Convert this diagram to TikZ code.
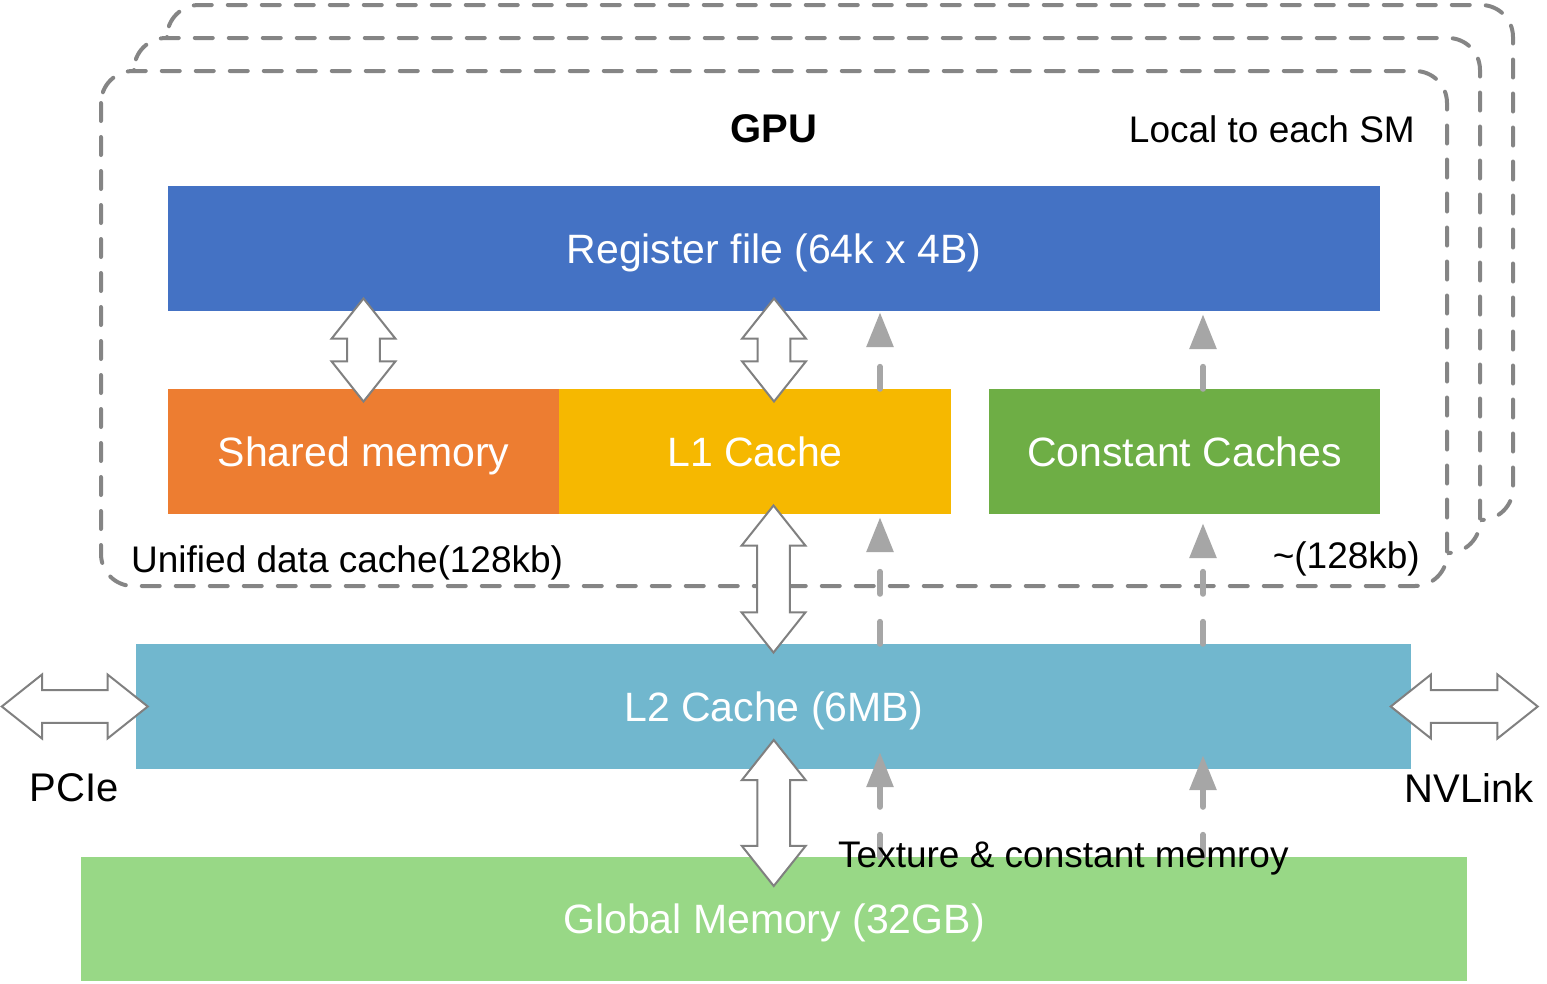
\documentclass[tikz,border=0pt]{standalone}
\usepackage{fontspec}
\setmainfont{Liberation Sans}
\usetikzlibrary{arrows.meta,shapes.arrows,calc}

\definecolor{rfblue}{HTML}{4472C4}
\definecolor{smorange}{HTML}{ED7D31}
\definecolor{lonegold}{HTML}{F6B800}
\definecolor{ccgreen}{HTML}{6EAE45}
\definecolor{ltwoblue}{HTML}{71B7CE}
\definecolor{gmgreen}{HTML}{98D886}
\definecolor{smgray}{HTML}{858585}
\definecolor{arrowgray}{HTML}{808080}
\definecolor{texgray}{HTML}{A6A6A6}

\tikzset{
	block/.style={draw=none, inner sep=0pt, text=white, text depth=0pt, font=\fontsize{41}{49}\selectfont, minimum height=125pt},
	smbox/.style={draw=smgray, fill=white, line width=4pt, dash pattern=on 18pt off 16pt, line cap=round, rounded corners=32pt},
	fatarrow/.style={shape=double arrow, draw=arrowgray, fill=white, line width=2pt, inner xsep=0pt, inner ysep=15.3pt, double arrow head extend=15.7pt, double arrow tip angle=77},
	texarrow/.style={draw=texgray, line width=6pt, dash pattern=on 22pt off 28pt, line cap=round, -{Triangle[length=35pt,width=26pt]}},
	note/.style={inner sep=0pt, text depth=0pt, font=\fontsize{37}{44}\selectfont}
}

\begin{document}
\begin{tikzpicture}[x=1pt, y=-1pt]
		\useasboundingbox ( 0, 0 ) rectangle ( 1547, 983 );

		% SM, one behind another
		\draw [smbox] ( 167, 5 ) rectangle ( 1513, 520 );
		\draw [smbox] ( 134, 38 ) rectangle ( 1480, 553 );
		\draw [smbox] ( 101, 71 ) rectangle ( 1447, 586 );

		% memory levels
		\node [block, fill=rfblue, minimum width=1212pt] (rf) at ( 774, 248.5 )	{Register file (64k x 4B)};
		\node [block, fill=smorange, minimum width=391pt] (sm) at ( 363.5, 451.5 )	{Shared memory};
		\node [block, fill=lonegold, minimum width=392pt] (l1) at ( 755, 451.5 )	{L1 Cache};
		\node [block, fill=ccgreen, minimum width=391pt] (cc) at ( 1184.5, 451.5 )	{Constant Caches};
		\node [block, fill=ltwoblue, minimum width=1275pt] (l2) at ( 773.5, 706.5 )	{L2 Cache (6MB)};
		\node [block, fill=gmgreen, minimum width=1386pt, minimum height=124pt] (gm) at ( 774, 919 )	{Global Memory (32GB)};

		% texture & constant path
		\coordinate (tex) at ( 880, 0 );
		\coordinate (cst) at ( 1203, 0 );
		\draw [texarrow] (l1.north -| tex) -- ($ (rf.south -| tex) + ( 0, 1 ) $);
		\draw [texarrow] (l2.north -| tex) -- ($ (l1.south -| tex) + ( 0, 3 ) $);
		\draw [texarrow] (gm.north -| tex) -- ($ (l2.south -| tex) + ( 0, -17 ) $);
		\draw [texarrow] (cc.north -| cst) -- ($ (rf.south -| cst) + ( 0, 3 ) $);
		\draw [texarrow] (l2.north -| cst) -- ($ (cc.south -| cst) + ( 0, 9 ) $);
		\draw [texarrow] (gm.north -| cst) -- ($ (l2.south -| cst) + ( 0, -14 ) $);

		% load / store
		\node [fatarrow, rotate=90, minimum height=103pt] (rfsm) at ($ (rf.south -| sm)!0.5!(sm.north) $)	{};
		\node [fatarrow, rotate=90, minimum height=103pt] (rfone) at ($ (rf.south)!0.5!(l1.north -| rf.south) $)	{};
		\node [fatarrow, rotate=90, minimum height=147pt] (onetwo) at ($ (l2.north)!0.5!(l1.south -| l2.north) $)	{};
		\node [fatarrow, rotate=90, minimum height=146pt] (twogm) at ($ (l2.south)!0.5!(gm.north) $)	{};
		\node [fatarrow, minimum height=146pt] (pciearrow) at ($ (l2.west) + ( -61, 0 ) $)	{};
		\node [fatarrow, minimum height=147pt] (nvarrow) at ($ (l2.east) + ( 53, 0 ) $)	{};

		% labels
		\node [note, font=\bfseries\fontsize{40}{48}\selectfont] (gpu) at ( 774, 129 )	{GPU};
		\node [note, anchor=east] (local) at ( 1415, 129 )	{Local to each SM};
		\node [note, anchor=west] (unified) at ( 131, 559 )	{Unified data cache(128kb)};
		\node [note, anchor=east] (ccsize) at ( 1420, 555 )	{\textasciitilde(128kb)};
		\node [note, font=\fontsize{40}{48}\selectfont] (pcie) at ( 74, 788 )	{PCIe};
		\node [note, font=\fontsize{40}{48}\selectfont] (nvlink) at ( 1469, 788 )	{NVLink};
		\node [note, anchor=west] (texmem) at ( 838, 855 )	{Texture \& constant memroy};
	\end{tikzpicture}
\end{document}
